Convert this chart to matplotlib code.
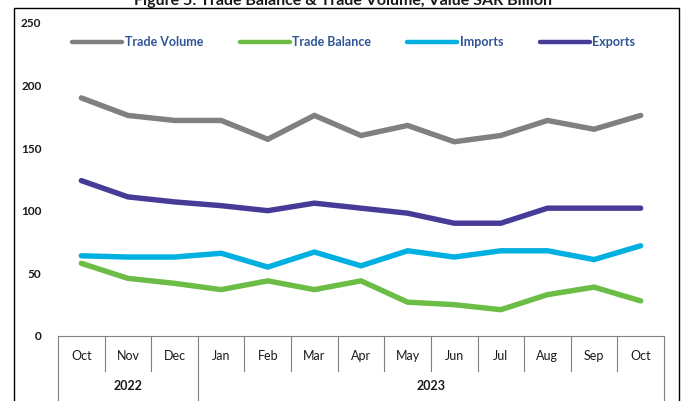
import matplotlib.pyplot as plt
from matplotlib.patches import Rectangle
from matplotlib.transforms import blended_transform_factory

months = ["Oct", "Nov", "Dec", "Jan", "Feb", "Mar", "Apr", "May", "Jun", "Jul", "Aug", "Sep", "Oct"]
years = ["2022", "2023"]
year_spans = [(0, 3), (3, 13)]

trade_volume = [190, 176, 172, 172, 157, 176, 160, 168, 155, 160, 172, 165, 176]
trade_balance = [58, 46, 42, 37, 44, 37, 44, 27, 25, 21, 33, 39, 28]
imports = [64, 63, 63, 66, 55, 67, 56, 68, 63, 68, 68, 61, 72]
exports = [124, 111, 107, 104, 100, 106, 102, 98, 90, 90, 102, 102, 102]

GRAY = "#808080"
GREEN = "#6BBD45"
CYAN = "#00B0E0"
NAVY = "#463C98"
LEGEND_TEXT = "#2F5597"
FONT = "Lato"

W, H = 685, 401


def main():
    fig = plt.figure(figsize=(W / 100, H / 100), dpi=100)
    fig.patch.set_facecolor("white")

    # axes: x 58..664 px, y 22.7..336 px
    ax = fig.add_axes([58 / W, 1 - 336 / H, 606 / W, (336 - 22.7) / H])
    x = list(range(len(months)))

    series = [
        ("Trade Volume", trade_volume, GRAY),
        ("Trade Balance", trade_balance, GREEN),
        ("Imports", imports, CYAN),
        ("Exports", exports, NAVY),
    ]
    for label, vals, color in series:
        ax.plot(x, vals, color=color, linewidth=3.9, solid_capstyle="round",
                solid_joinstyle="miter", label=label)

    ax.set_xlim(-0.5, len(months) - 0.5)
    ax.set_ylim(0, 250)
    ax.set_yticks([0, 50, 100, 150, 200, 250])
    ax.set_yticklabels(["0", "50", "100", "150", "200", "250"],
                       fontfamily=FONT, fontweight="bold", fontsize=8.5, color="#1A1A1A")
    ax.tick_params(axis="y", length=0, pad=12)
    ax.set_xticks([])
    for side in ["left", "right", "top"]:
        ax.spines[side].set_visible(False)
    ax.spines["bottom"].set_color("#808080")
    ax.spines["bottom"].set_linewidth(0.8)

    # two-level category axis
    tr = blended_transform_factory(ax.transData, ax.transAxes)
    for i, m in enumerate(months):
        ax.text(i, -0.065, m, transform=tr, ha="center", va="center",
                fontsize=9, fontfamily=FONT, color="#1A1A1A", clip_on=False)
    edges = set()
    for (a, b) in year_spans:
        edges.add(a - 0.5)
        edges.add(b - 0.5)
    for i in range(len(months) + 1):
        xe = i - 0.5
        y_end = -0.3 if xe in edges else -0.112
        ax.plot([xe, xe], [0, y_end], transform=tr, color="#808080",
                linewidth=0.8, clip_on=False)
    for yr, (a, b) in zip(years, year_spans):
        ax.text((a + b - 1) / 2, -0.16, yr, transform=tr, ha="center", va="center",
                fontsize=9, fontfamily=FONT, fontweight="bold", color="#1A1A1A",
                clip_on=False)

    leg = ax.legend(loc="center", bbox_to_anchor=(0.488, 0.938), ncol=4, frameon=False,
                    handlelength=4.0, handletextpad=0.2, columnspacing=2.9,
                    prop={"family": FONT, "size": 9, "weight": "bold"})
    for t in leg.get_texts():
        t.set_color(LEGEND_TEXT)
    for ln in leg.get_lines():
        ln.set_linewidth(3.2)

    # outer frame, bottom runs off the picture
    fig.patches.append(Rectangle((14 / W, -0.05), (679 - 14) / W, 1.05 - 8 / H,
                                 transform=fig.transFigure, fill=False,
                                 edgecolor="black", linewidth=1.0))

    # title is mostly cropped off at the top in the reference
    fig.text(0.5, 1 - 4.5 / H, "Figure 5: Trade Balance & Trade Volume, Value SAR Billion",
             ha="center", va="baseline", fontsize=11.5, fontweight="bold",
             fontfamily=FONT, color="#1A1A1A")

    fig.savefig("out.png", dpi=100)
    plt.close(fig)


if __name__ == "__main__":
    main()
